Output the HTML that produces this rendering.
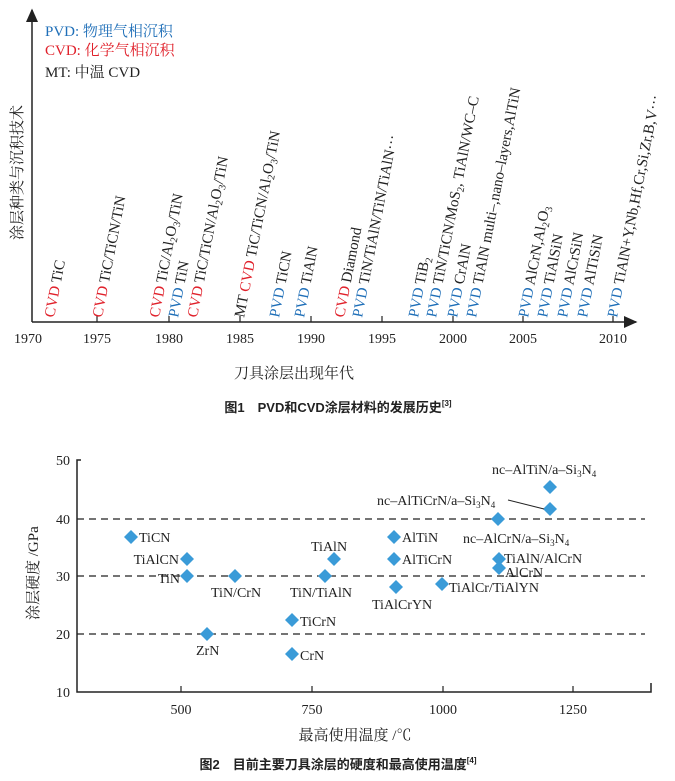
<!DOCTYPE html>
<html><head><meta charset="utf-8"><style>
body{margin:0;background:#fff;}
svg{display:block;font-family:"Liberation Serif","Noto Serif CJK SC",serif;}
.r{fill:#e0202a}.b{fill:#1f6fb8}.k{fill:#222}
.cap{font-family:"Liberation Sans","Noto Sans CJK SC",sans-serif;font-weight:bold;font-size:13px;fill:#222}
</style></head><body>
<svg width="675" height="781" viewBox="0 0 675 781" xmlns="http://www.w3.org/2000/svg">
<defs><marker id="ar" markerWidth="10" markerHeight="10" refX="8" refY="4" orient="auto"><path d="M0,0 L9,4 L0,8 z" fill="#222"/></marker></defs>
<line x1="32" y1="322" x2="32" y2="10" stroke="#222" stroke-width="1.5" marker-end="url(#ar)"/>
<line x1="32" y1="322" x2="636" y2="322" stroke="#222" stroke-width="1.5" marker-end="url(#ar)"/>
<g stroke="#222" stroke-width="1.2">
<line x1="97" y1="322" x2="97" y2="316"/><line x1="169" y1="322" x2="169" y2="316"/><line x1="240" y1="322" x2="240" y2="316"/><line x1="311" y1="322" x2="311" y2="316"/><line x1="382" y1="322" x2="382" y2="316"/><line x1="453" y1="322" x2="453" y2="316"/><line x1="523" y1="322" x2="523" y2="316"/><line x1="613" y1="322" x2="613" y2="316"/>
</g>
<g font-size="14" fill="#222" text-anchor="middle">
<text x="28" y="343">1970</text><text x="97" y="343">1975</text><text x="169" y="343">1980</text><text x="240" y="343">1985</text><text x="311" y="343">1990</text><text x="382" y="343">1995</text><text x="453" y="343">2000</text><text x="523" y="343">2005</text><text x="613" y="343">2010</text>
</g>
<g font-size="15">
<text x="45" y="36"><tspan class="b">PVD: 物理气相沉积</tspan></text>
<text x="45" y="55"><tspan class="r">CVD: 化学气相沉积</tspan></text>
<text x="45" y="77"><tspan class="k">MT: 中温 CVD</tspan></text>
</g>
<text transform="translate(22,240) rotate(-90)" font-size="15" fill="#222">涂层种类与沉积技术</text>
<text x="294" y="378" font-size="15" fill="#222" text-anchor="middle">刀具涂层出现年代</text>
<g font-size="15">
<text transform="translate(54,318) rotate(-79)"><tspan class="r">CVD</tspan><tspan class="k"> TiC</tspan></text>
<text transform="translate(102,318) rotate(-79)"><tspan class="r">CVD</tspan><tspan class="k"> TiC/TiCN/TiN</tspan></text>
<text transform="translate(159,318) rotate(-79)"><tspan class="r">CVD</tspan><tspan class="k"> TiC/Al<tspan font-size="10" dy="3">2</tspan><tspan dy="-3">O</tspan><tspan font-size="10" dy="3">3</tspan><tspan dy="-3">/TiN</tspan></tspan></text>
<text transform="translate(178,318) rotate(-79)"><tspan class="b">PVD</tspan><tspan class="k"> TiN</tspan></text>
<text transform="translate(197,318) rotate(-79)"><tspan class="r">CVD</tspan><tspan class="k"> TiC/TiCN/Al<tspan font-size="10" dy="3">2</tspan><tspan dy="-3">O</tspan><tspan font-size="10" dy="3">3</tspan><tspan dy="-3">/TiN</tspan></tspan></text>
<text transform="translate(244,318) rotate(-79)"><tspan class="k">MT </tspan><tspan class="r">CVD</tspan><tspan class="k"> TiC/TiCN/Al<tspan font-size="10" dy="3">2</tspan><tspan dy="-3">O</tspan><tspan font-size="10" dy="3">3</tspan><tspan dy="-3">/TiN</tspan></tspan></text>
<text transform="translate(279,318) rotate(-79)"><tspan class="b">PVD</tspan><tspan class="k"> TiCN</tspan></text>
<text transform="translate(304,318) rotate(-79)"><tspan class="b">PVD</tspan><tspan class="k"> TiAlN</tspan></text>
<text transform="translate(344,318) rotate(-79)"><tspan class="r">CVD</tspan><tspan class="k"> Diamond</tspan></text>
<text transform="translate(362,318) rotate(-79)"><tspan class="b">PVD</tspan><tspan class="k"> TiN/TiAlN/TiN/TiAlN···</tspan></text>
<text transform="translate(418,318) rotate(-79)"><tspan class="b">PVD</tspan><tspan class="k"> TiB<tspan font-size="10" dy="3">2</tspan></tspan></text>
<text transform="translate(436,318) rotate(-79)"><tspan class="b">PVD</tspan><tspan class="k"> TiN/TiCN/MoS<tspan font-size="10" dy="3">2</tspan><tspan dy="-3">, TiAlN/WC–C</tspan></tspan></text>
<text transform="translate(457,318) rotate(-79)"><tspan class="b">PVD</tspan><tspan class="k"> CrAlN</tspan></text>
<text transform="translate(476,318) rotate(-79)"><tspan class="b">PVD</tspan><tspan class="k"> TiAlN multi–,nano–layers,AlTiN</tspan></text>
<text transform="translate(528,318) rotate(-79)"><tspan class="b">PVD</tspan><tspan class="k"> AlCrN,Al<tspan font-size="10" dy="3">2</tspan><tspan dy="-3">O</tspan><tspan font-size="10" dy="3">3</tspan></tspan></text>
<text transform="translate(547,318) rotate(-79)"><tspan class="b">PVD</tspan><tspan class="k"> TiAlSiN</tspan></text>
<text transform="translate(567,318) rotate(-79)"><tspan class="b">PVD</tspan><tspan class="k"> AlCrSiN</tspan></text>
<text transform="translate(587,318) rotate(-79)"><tspan class="b">PVD</tspan><tspan class="k"> AlTiSiN</tspan></text>
<text transform="translate(617,318) rotate(-79)"><tspan class="b">PVD</tspan><tspan class="k"> TiAlN+Y,Nb,Hf,Cr,Si,Zr,B,V···</tspan></text>
</g>
<text x="338" y="412" class="cap" text-anchor="middle">图1　PVD和CVD涂层材料的发展历史<tspan font-size="8" dy="-6">[3]</tspan></text>

<g stroke="#222" stroke-width="1.3" stroke-dasharray="7,5">
<line x1="77" y1="519" x2="645" y2="519"/><line x1="77" y1="576" x2="645" y2="576"/><line x1="77" y1="634" x2="645" y2="634"/>
</g>
<path d="M81,460 L77,460 L77,692 L651,692 L651,683" fill="none" stroke="#222" stroke-width="1.5"/>
<g stroke="#222" stroke-width="1.2"><line x1="181" y1="692" x2="181" y2="686"/><line x1="312" y1="692" x2="312" y2="686"/><line x1="443" y1="692" x2="443" y2="686"/><line x1="573" y1="692" x2="573" y2="686"/></g>
<g font-size="14" fill="#222" text-anchor="end">
<text x="70" y="465">50</text><text x="70" y="524">40</text><text x="70" y="581">30</text><text x="70" y="639">20</text><text x="70" y="697">10</text>
</g>
<g font-size="14" fill="#222" text-anchor="middle">
<text x="181" y="714">500</text><text x="312" y="714">750</text><text x="443" y="714">1000</text><text x="573" y="714">1250</text>
</g>
<text transform="translate(38,620) rotate(-90)" font-size="15" fill="#222">涂层硬度 /GPa</text>
<text x="355" y="740" font-size="15" fill="#222" text-anchor="middle">最高使用温度 /℃</text>
<g fill="#3a9bd8">
<path d="M131,530l7,7l-7,7l-7,-7z"/><path d="M187,552l7,7l-7,7l-7,-7z"/><path d="M187,569l7,7l-7,7l-7,-7z"/><path d="M235,569l7,7l-7,7l-7,-7z"/><path d="M207,627l7,7l-7,7l-7,-7z"/><path d="M292,613l7,7l-7,7l-7,-7z"/><path d="M292,647l7,7l-7,7l-7,-7z"/><path d="M325,569l7,7l-7,7l-7,-7z"/><path d="M334,552l7,7l-7,7l-7,-7z"/><path d="M394,530l7,7l-7,7l-7,-7z"/><path d="M394,552l7,7l-7,7l-7,-7z"/><path d="M396,580l7,7l-7,7l-7,-7z"/><path d="M442,577l7,7l-7,7l-7,-7z"/><path d="M498,512l7,7l-7,7l-7,-7z"/><path d="M499,552l7,7l-7,7l-7,-7z"/><path d="M499,561l7,7l-7,7l-7,-7z"/><path d="M550,502l7,7l-7,7l-7,-7z"/><path d="M550,480l7,7l-7,7l-7,-7z"/>
</g>
<line x1="508" y1="500" x2="544" y2="509" stroke="#222" stroke-width="1"/>
<g font-size="14" fill="#222">
<text x="139" y="542">TiCN</text>
<text x="179" y="564" text-anchor="end">TiAlCN</text>
<text x="180" y="583" text-anchor="end">TiN</text>
<text x="211" y="597">TiN/CrN</text>
<text x="196" y="655">ZrN</text>
<text x="300" y="626">TiCrN</text>
<text x="300" y="660">CrN</text>
<text x="290" y="597">TiN/TiAlN</text>
<text x="311" y="551">TiAlN</text>
<text x="402" y="542">AlTiN</text>
<text x="402" y="564">AlTiCrN</text>
<text x="372" y="609">TiAlCrYN</text>
<text x="449" y="592">TiAlCr/TiAlYN</text>
<text x="463" y="543">nc–AlCrN/a–Si<tspan font-size="9" dy="3">3</tspan><tspan dy="-3">N</tspan><tspan font-size="9" dy="3">4</tspan></text>
<text x="504" y="563">TiAlN/AlCrN</text>
<text x="505" y="577">AlCrN</text>
<text x="377" y="505">nc–AlTiCrN/a–Si<tspan font-size="9" dy="3">3</tspan><tspan dy="-3">N</tspan><tspan font-size="9" dy="3">4</tspan></text>
<text x="492" y="474">nc–AlTiN/a–Si<tspan font-size="9" dy="3">3</tspan><tspan dy="-3">N</tspan><tspan font-size="9" dy="3">4</tspan></text>
</g>
<text x="338" y="769" class="cap" text-anchor="middle">图2　目前主要刀具涂层的硬度和最高使用温度<tspan font-size="8" dy="-6">[4]</tspan></text>
</svg>
</body></html>
